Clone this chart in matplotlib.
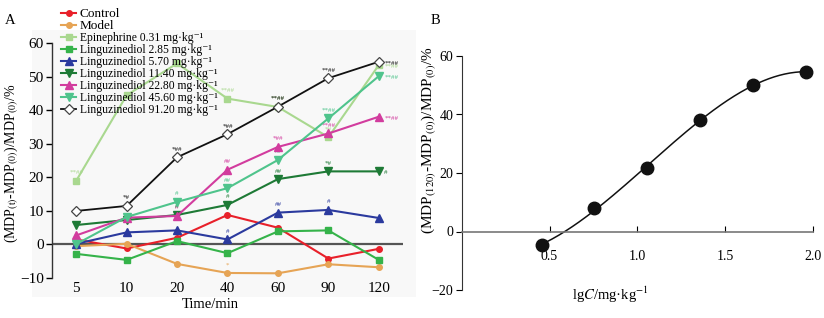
import numpy as np
import matplotlib
matplotlib.use("Agg")
import matplotlib.pyplot as plt
from matplotlib.patches import Rectangle

plt.rcParams['font.family'] = ['Liberation Serif', 'DejaVu Serif']
plt.rcParams['mathtext.fontset'] = 'stix'

# ---------------- data ----------------
times = ["5", "10", "20", "40", "60", "90", "120"]

control = [1.5, -1.2, 2.0, 8.8, 5.0, -4.2, -1.3]
model = [-0.5, 0.2, -5.8, -8.5, -8.6, -5.9, -6.8]
epinephrine = [19.0, 44.5, 54.0, 43.5, 41.0, 32.0, 53.5]
ling_285 = [-2.8, -4.6, 1.0, -2.6, 3.9, 4.2, -4.6]
ling_570 = [0.2, 3.6, 4.2, 1.5, 9.5, 10.3, 7.9]
ling_1140 = [5.8, 7.3, 8.8, 11.8, 19.5, 21.8, 21.8]
ling_2280 = [2.7, 8.0, 8.5, 22.3, 29.1, 33.1, 38.1]
ling_4560 = [0.1, 8.2, 12.7, 16.8, 25.2, 37.6, 50.2]
ling_9120 = [10.0, 11.5, 26.0, 32.9, 41.1, 49.6, 54.5]

series_labels = [
    "Control",
    "Model",
    "Epinephrine 0.31 mg·kg⁻¹",
    "Linguzinediol 2.85 mg·kg⁻¹",
    "Linguzinediol 5.70 mg·kg⁻¹",
    "Linguzinediol 11.40 mg·kg⁻¹",
    "Linguzinediol 22.80 mg·kg⁻¹",
    "Linguzinediol 45.60 mg·kg⁻¹",
    "Linguzinediol 91.20 mg·kg⁻¹",
]

# significance marks: (series index, time index, text)
marks = [
    (2, 0, "**##"), (2, 3, "**##"), (2, 4, "**##"), (2, 5, "*#"), (2, 6, "**##"),
    (8, 1, "*#"), (8, 2, "*##"), (8, 3, "*##"), (8, 4, "**##"), (8, 5, "**##"), (8, 6, "**##"),
    (6, 2, "#"), (6, 3, "##"), (6, 4, "*##"), (6, 5, "**##"), (6, 6, "**##"),
    (7, 2, "#"), (7, 3, "##"), (7, 4, "##"), (7, 5, "**##"), (7, 6, "**##"),
    (5, 2, "#"), (5, 3, "#"), (5, 4, "##"), (5, 5, "*#"), (5, 6, "#"),
    (4, 3, "#"), (4, 4, "##"), (4, 5, "#"),
    (1, 3, "*"),
]

# panel B: lg dose vs response at 120 min
doses = [2.85, 5.70, 11.40, 22.80, 45.60, 91.20]
resp120 = [ling_285[-1], ling_570[-1], ling_1140[-1], ling_2280[-1], ling_4560[-1], ling_9120[-1]]

# ---------------- styles ----------------
all_series = [control, model, epinephrine, ling_285, ling_570, ling_1140, ling_2280, ling_4560, ling_9120]
colors = ["#e8202a", "#e6a455", "#a9d88f", "#35b34a", "#2b3a9e", "#1e7a36", "#d23c9e", "#4fc48c", "#111111"]
markers = ["o", "o", "s", "s", "^", "v", "^", "v", "D"]
msizes = [4, 4, 5, 5, 5.5, 5.5, 5.5, 5.5, 5]

fig = plt.figure(figsize=(8.24, 3.18), dpi=100)

# faint panel background
fig.patches.append(Rectangle((32 / 824, 1 - 297 / 318), (416 - 32) / 824, (297 - 30) / 318,
                             transform=fig.transFigure, facecolor="#f8f8f8", edgecolor="none", zorder=-10))

axA = fig.add_axes([52 / 824, 1 - 278 / 318, 351 / 824, (278 - 43.3) / 318])
axA.patch.set_alpha(0)
x = np.arange(len(times))
handles = []
for i, (vals, c, m, ms) in enumerate(zip(all_series, colors, markers, msizes)):
    if i == 8:
        h, = axA.plot(x, vals, color=c, lw=1.3, marker=m, ms=ms, mfc="white", mec="#444444", mew=0.9, zorder=5)
    else:
        h, = axA.plot(x, vals, color=c, lw=1.5, marker=m, ms=ms, mfc=c, mec=c, zorder=3 + i * 0.1)
    handles.append(h)

axA.axhline(0, color="#555555", lw=1.6, zorder=1)
axA.set_xlim(-0.48, 6.48)
axA.set_ylim(-10, 60)
axA.set_xticks(x)
axA.set_xticklabels(times)
axA.set_yticks([-10, 0, 10, 20, 30, 40, 50, 60])
for s in ["top", "right", "bottom"]:
    axA.spines[s].set_visible(False)
axA.spines["left"].set_color("#333333")
axA.spines["left"].set_linewidth(1.0)
axA.tick_params(axis="x", length=0, labelsize=11, pad=3)
axA.tick_params(axis="y", length=4, width=1.0, labelsize=11, direction="out", pad=2)

for si, ti, txt in marks:
    vals = all_series[si]
    if ti == 6:
        axA.annotate(txt, (x[ti], vals[ti]), xytext=(4, -1), textcoords="offset points",
                     fontsize=5, color=colors[si], va="center", ha="left")
    else:
        axA.annotate(txt, (x[ti], vals[ti]), xytext=(0, 4), textcoords="offset points",
                     fontsize=5, color=colors[si], va="bottom", ha="center")

fig.text(210 / 824, 1 - 305 / 318, "Time/min", fontsize=10.5, ha="center", va="center")
fig.text(12 / 824, 1 - 163 / 318, "(MDP$_{\\mathrm{(t)}}$-MDP$_{\\mathrm{(0)}}$)/MDP$_{\\mathrm{(0)}}$/%",
         rotation=90, fontsize=10, ha="center", va="center")
fig.text(10 / 824, 1 - 20 / 318, "A", fontsize=10.5, ha="center", va="center")

leg = fig.legend(handles, series_labels, loc="upper left", bbox_to_anchor=(61 / 824, 1 - 8 / 318),
                 frameon=False, fontsize=8.4, handlelength=1.3, handletextpad=0.3,
                 labelspacing=0.0, borderpad=0, borderaxespad=0)
for t in leg.get_texts()[:2]:
    t.set_fontsize(9.5)

# ---------------- panel B ----------------
axB = fig.add_axes([461.7 / 824, 1 - 290 / 318, 351.3 / 824, (290 - 56) / 318])
lgc = np.log10(doses)
coef = np.polyfit(lgc, resp120, 3)
xx = np.linspace(lgc.min(), lgc.max(), 200)
axB.plot(xx, np.polyval(coef, xx), color="#111111", lw=1.1)
axB.plot(lgc, resp120, "o", color="#111111", ms=9)
axB.set_xlim(0, 2.0)
axB.set_ylim(-20, 60)
axB.set_xticks([0.5, 1.0, 1.5, 2.0])
axB.set_yticks([-20, 0, 20, 40, 60])
axB.spines["bottom"].set_position(("data", 0))
for s in ["top", "right"]:
    axB.spines[s].set_visible(False)
axB.spines["bottom"].set_color("#777777")
axB.spines["bottom"].set_linewidth(1.2)
axB.spines["left"].set_color("#333333")
axB.tick_params(axis="x", direction="in", length=4, labelsize=10, pad=13)
axB.tick_params(axis="y", direction="out", length=4, labelsize=10, pad=2)

fig.text(610 / 824, 1 - 295 / 318, "lg$C$/mg·kg$^{-1}$", fontsize=10.5, ha="center", va="center")
fig.text(429 / 824, 1 - 140 / 318, "(MDP$_{\\mathrm{(120)}}$-MDP$_{\\mathrm{(0)}}$)/MDP$_{\\mathrm{(0)}}$/%",
         rotation=90, fontsize=11, ha="center", va="center")
fig.text(435 / 824, 1 - 20 / 318, "B", fontsize=10.5, ha="center", va="center")

fig.savefig("out.png", dpi=100)
